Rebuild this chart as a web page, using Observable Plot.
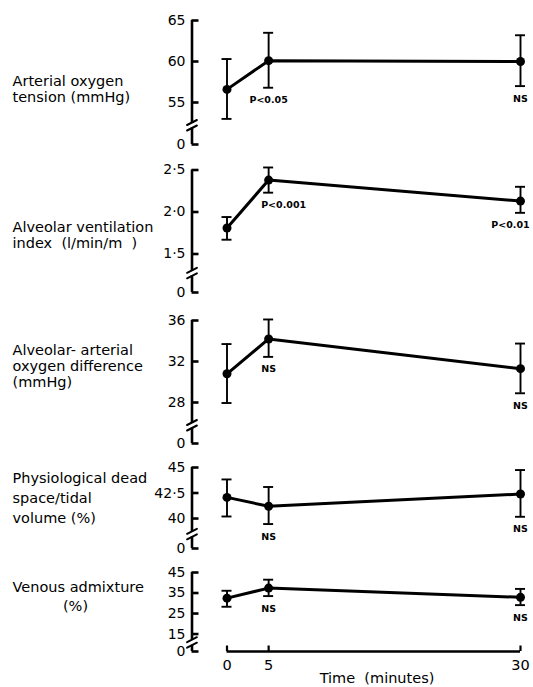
<!DOCTYPE html>
<html><head><meta charset="utf-8">
<script src="https://cdn.jsdelivr.net/npm/d3@7"></script>
<script src="https://cdn.jsdelivr.net/npm/@observablehq/plot@0.6"></script>
<style>
html,body{margin:0;padding:0;background:#fff;overflow:hidden;}
#chart{width:533px;height:687px;position:relative;overflow:hidden;}
#chart svg{display:block;}
g[aria-label="note"] text{letter-spacing:1.2px;}
</style></head><body><div id="chart"></div>
<script>
// ---- data ----
const times = [0, 5, 30];
const timeTicks = [0, 5, 30];
const timeTickLabels = ["0", "5", "30"];
const xLabel = "Time  (minutes)";

const arterialLabel = ["Arterial oxygen", "tension (mmHg)"];
const arterialMean = [56.6, 60.1, 60.0];
const arterialLow = [53.0, 56.8, 57.0];
const arterialHigh = [60.3, 63.5, 63.2];
const arterialTicks = [0, 55, 60, 65];
const arterialTickLabels = ["0", "55", "60", "65"];
const arterialNotes = ["", "P<0.05", "NS"];

const ventLabel = ["Alveolar ventilation", "index  (l/min/m  )"];
const ventMean = [1.81, 2.38, 2.13];
const ventLow = [1.67, 2.23, 1.99];
const ventHigh = [1.94, 2.53, 2.30];
const ventTicks = [0, 1.5, 2.0, 2.5];
const ventTickLabels = ["0", "1·5", "2·0", "2·5"];
const ventNotes = ["", "P<0.001", "P<0.01"];

const diffLabel = ["Alveolar- arterial", "oxygen difference", "(mmHg)"];
const diffMean = [30.8, 34.2, 31.3];
const diffLow = [27.95, 32.45, 28.9];
const diffHigh = [33.7, 36.1, 33.75];
const diffTicks = [0, 28, 32, 36];
const diffTickLabels = ["0", "28", "32", "36"];
const diffNotes = ["", "NS", "NS"];

const deadLabel = ["Physiological dead", "space/tidal", "volume (%)"];
const deadMean = [42.07, 41.2, 42.4];
const deadLow = [40.2, 39.46, 40.17];
const deadHigh = [43.83, 43.09, 44.75];
const deadTicks = [0, 40, 42.5, 45];
const deadTickLabels = ["0", "40", "42·5", "45"];
const deadNotes = ["", "NS", "NS"];

const venousLabel = ["Venous admixture", "(%)"];
const venousMean = [32.5, 37.4, 32.9];
const venousLow = [28.3, 33.5, 29.1];
const venousHigh = [36.1, 41.5, 37.0];
const venousTicks = [0, 15, 25, 35, 45];
const venousTickLabels = ["0", "15", "25", "35", "45"];
const venousNotes = ["", "NS", "NS"];

const panels = [
  {label: arterialLabel, mean: arterialMean, lo: arterialLow, hi: arterialHigh, ticks: arterialTicks, tickLabels: arterialTickLabels, notes: arterialNotes},
  {label: ventLabel, mean: ventMean, lo: ventLow, hi: ventHigh, ticks: ventTicks, tickLabels: ventTickLabels, notes: ventNotes},
  {label: diffLabel, mean: diffMean, lo: diffLow, hi: diffHigh, ticks: diffTicks, tickLabels: diffTickLabels, notes: diffNotes},
  {label: deadLabel, mean: deadMean, lo: deadLow, hi: deadHigh, ticks: deadTicks, tickLabels: deadTickLabels, notes: deadNotes},
  {label: venousLabel, mean: venousMean, lo: venousLow, hi: venousHigh, ticks: venousTicks, tickLabels: venousTickLabels, notes: venousNotes}
];

// ---- layout (pixel positions, scale breaks) ----
const W = 533, ML = 191.5, MR = 13, XINSET = 35, AXDX = -35;
const layout = [
  {top: 0,   height: 156, brk: 52.5, yZero: 144, yBrk: 122.5, yTop: 20,
   lines: [[12, 80.5, "start"], [12, 97, "start"]], noteDx: [0, 0, 0]},
  {top: 156, height: 150, brk: 1.3,  yZero: 292, yBrk: 270.3, yTop: 169.5,
   lines: [[12, 226.5, "start"], [12, 242.5, "start"]], noteDx: [0, 15, -10]},
  {top: 306, height: 150, brk: 26,   yZero: 443, yBrk: 422.5, yTop: 320,
   lines: [[12, 349.5, "start"], [12, 365.5, "start"], [12, 381.5, "start"]], noteDx: [0, 0, 0]},
  {top: 456, height: 104, brk: 38.7, yZero: 548, yBrk: 531.3, yTop: 467,
   lines: [[12, 478, "start"], [12, 498, "start"], [12, 518, "start"]], noteDx: [0, 0, 0]},
  {top: 560, height: 127, brk: 12,   yZero: 651, yBrk: 639.7, yTop: 572,
   lines: [[12, 586.5, "start"], [75, 605.5, "middle"]], noteDx: [0, 0, 0]}
];

const FONT = "DejaVu Sans";
const slash = {draw(ctx, l) { ctx.moveTo(0, 0); ctx.lineTo(0, -l); }};

function makePanel(p, L, last) {
  const t0 = times[0], tN = times[times.length - 1];
  const rows = times.map((t, i) => ({t, m: p.mean[i], lo: p.lo[i], hi: p.hi[i], note: p.notes[i], i}));
  const tickMap = new Map(p.ticks.map((v, i) => [v, p.tickLabels[i]]));
  const topTick = d3.max(p.ticks);
  const marks = [];
  // y axis line: upper segment, lower segment, break slashes, ticks, labels
  marks.push(Plot.ruleX([{x: t0, y1: topTick, y2: L.brk}], {x: "x", y1: "y1", y2: "y2", dx: AXDX, strokeWidth: 2.6}));
  marks.push(Plot.ruleX([{x: t0, y1: L.brk, y2: 0}], {x: "x", y1: "y1", y2: "y2", dx: AXDX, insetTop: 5, strokeWidth: 2.6}));
  marks.push(Plot.vector([L.brk], {x: () => t0, y: d => d, dx: AXDX, dy: -0.5, rotate: 63, length: 11, anchor: "middle", shape: slash, strokeWidth: 2}));
  marks.push(Plot.vector([L.brk], {x: () => t0, y: d => d, dx: AXDX, dy: 5, rotate: 63, length: 11, anchor: "middle", shape: slash, strokeWidth: 2}));
  marks.push(Plot.ruleY(p.ticks, {y: d => d, x1: () => t0, x2: () => t0, dx: AXDX, insetRight: -7, strokeWidth: 2.6}));
  marks.push(Plot.axisY(p.ticks, {anchor: "left", tickSize: 0, tickPadding: 6.5, tickFormat: d => tickMap.get(d), fontSize: 14, fontFamily: FONT, label: null}));
  // left descriptive label
  L.lines.forEach(([x, y, anchor], i) => {
    marks.push(Plot.text([p.label[i]], {text: d => d, frameAnchor: "top-left", dx: x - ML, dy: y - L.top, textAnchor: anchor, lineAnchor: "middle", fontSize: 14.5, fontFamily: FONT}));
  });
  // error bars
  marks.push(Plot.ruleX(rows, {x: "t", y1: "hi", y2: "lo", strokeWidth: 1.9}));
  marks.push(Plot.ruleY(rows, {y: "hi", x1: "t", x2: "t", insetLeft: -5, insetRight: -5, strokeWidth: 1.9}));
  marks.push(Plot.ruleY(rows, {y: "lo", x1: "t", x2: "t", insetLeft: -5, insetRight: -5, strokeWidth: 1.9}));
  // mean line + points
  marks.push(Plot.line(rows, {x: "t", y: "m", strokeWidth: 3, strokeLinejoin: "round"}));
  marks.push(Plot.dot(rows, {x: "t", y: "m", r: 4.5, fill: "black", stroke: null}));
  // significance notes
  rows.filter(r => r.note).forEach(r => {
    marks.push(Plot.text([r], {x: "t", y: "lo", text: "note", dy: 12.5, dx: L.noteDx[r.i], fontSize: 9.5, fontWeight: "bold", fontFamily: FONT, ariaLabel: "note"}));
  });
  if (last) {
    marks.push(Plot.ruleY([0], {y: d => d, x1: () => t0, x2: () => tN, strokeWidth: 2.6}));
    marks.push(Plot.ruleX(timeTicks, {x: d => d, y1: () => 0, y2: () => 0, insetTop: -5.5, strokeWidth: 2.2}));
    marks.push(Plot.text(timeTicks, {x: d => d, y: () => 0, text: (d, i) => timeTickLabels[i], dy: 14, fontSize: 14.5, fontFamily: FONT}));
    marks.push(Plot.text([xLabel], {text: d => d, frameAnchor: "top-left", dx: 376.5 - ML, dy: 678 - L.top, textAnchor: "middle", lineAnchor: "middle", fontSize: 14.5, fontFamily: FONT}));
  }
  return Plot.plot({
    width: W, height: L.height,
    marginLeft: ML, marginRight: MR, marginTop: 0, marginBottom: 0,
    style: {fontFamily: FONT, color: "black", background: "white", overflow: "hidden"},
    x: {type: "pow", exponent: 1.09, domain: [t0, tN], insetLeft: XINSET, axis: null},
    y: {type: "linear", domain: [0, L.brk, topTick], range: [L.yZero - L.top, L.yBrk - L.top, L.yTop - L.top], axis: null},
    marks
  });
}

const chart = document.getElementById("chart");
panels.forEach((p, k) => chart.appendChild(makePanel(p, layout[k], k === panels.length - 1)));
</script>
</body></html>
